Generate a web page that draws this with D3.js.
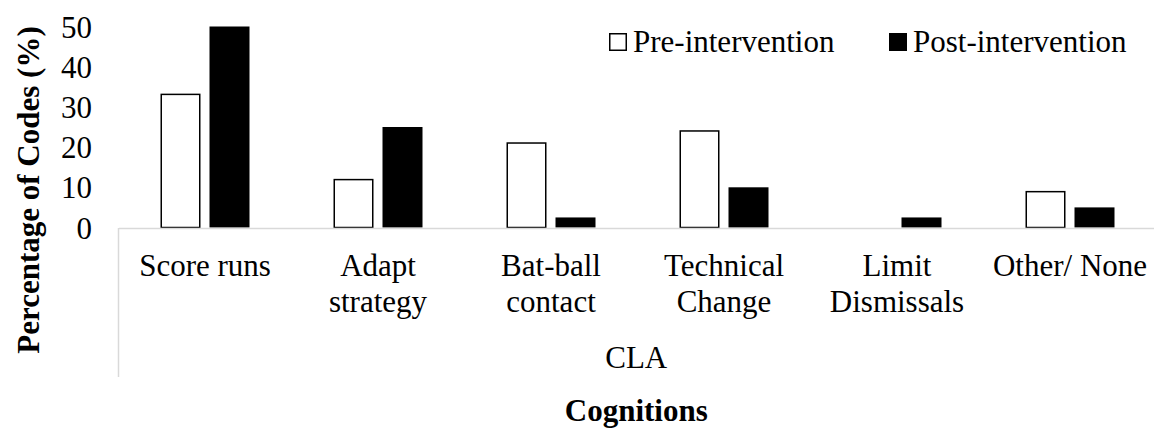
<!DOCTYPE html>
<html>
<head>
<meta charset="utf-8">
<script src="https://cdn.jsdelivr.net/npm/d3@7"></script>
<style>
  body { margin: 0; background: #fff; }
</style>
</head>
<body>
<svg class="chart"></svg>
<script>
// chart values
let categories = ['Score runs', 'Adapt strategy', 'Bat-ball contact', 'Technical Change', 'Limit Dismissals', 'Other/ None'];
let seriesNames = ['Pre-intervention', 'Post-intervention'];
let preValues = [33.3, 12.1, 21.2, 24.2, 0, 9.1];
let postValues = [50, 25, 2.5, 10, 2.5, 5];
let yTicks = [0, 10, 20, 30, 40, 50];
let groupLabel = 'CLA';
let xTitle = 'Cognitions';
let yTitle = 'Percentage of Codes (%)';

let width = 1154, height = 428;
let fontFamily = '"Liberation Serif", "Times New Roman", serif';
let fontSize = 31;
let axisColor = '#d9d9d9';

let svg = d3.select('.chart')
  .attr('width', width)
  .attr('height', height)
  .attr('font-family', fontFamily);

svg.append('rect')
  .attr('width', width)
  .attr('height', height)
  .attr('fill', '#fff');

let x0 = d3.scaleBand() // categories
  .domain(categories)
  .range([118.5, 1156.5])
  .paddingInner(0)
  .paddingOuter(0);

let x1 = d3.scaleBand() // pre / post within a category
  .domain(seriesNames)
  .range([0, 89])
  .paddingInner(9 / 49);

let y = d3.scaleLinear()
  .domain([0, 50])
  .range([227.5, 26.5]);

let z = d3.scaleOrdinal()
  .domain(seriesNames)
  .range(['#fff', '#000']);

let rows = categories.map((c, i) => ({
  category: c,
  values: [
    {key: seriesNames[0], value: preValues[i]},
    {key: seriesNames[1], value: postValues[i]}
  ]
}));

// bars
let groups = svg.selectAll('.group')
  .data(rows)
  .enter().append('g')
  .attr('class', 'group')
  .attr('transform', (d) => 'translate(' + (x0(d.category) + (x0.bandwidth() - 89) / 2) + ',0)');

groups.selectAll('rect')
  .data((d) => d.values.filter((v) => v.value > 0))
  .enter().append('rect')
  .attr('x', (d) => x1(d.key) + (d.key === seriesNames[0] ? 0.75 : 0))
  .attr('y', (d) => y(d.value) + (d.key === seriesNames[0] ? 0.75 : 0))
  .attr('width', (d) => x1.bandwidth() - (d.key === seriesNames[0] ? 1.5 : 0))
  .attr('height', (d) => y(0) - y(d.value) - (d.key === seriesNames[0] ? 0.75 : 0))
  .attr('fill', (d) => z(d.key))
  .attr('stroke', (d) => d.key === seriesNames[0] ? '#000' : 'none')
  .attr('stroke-width', 1.5);

// y-axis (labels only)
let yAxis = svg.append('g')
  .attr('transform', 'translate(92,0)')
  .call(d3.axisLeft(y).tickValues(yTicks).tickSize(0).tickPadding(0))
  .attr('font-family', fontFamily)
  .attr('font-size', fontSize);
yAxis.select('.domain').remove();
yAxis.selectAll('text')
  .attr('fill', '#000')
  .attr('dy', '0.34em');

// x-axis
let xAxis = svg.append('g')
  .attr('transform', 'translate(0,' + 228 + ')')
  .call(d3.axisBottom(x0).tickSize(0))
  .attr('font-family', fontFamily)
  .attr('font-size', fontSize);
xAxis.select('.domain')
  .attr('stroke', axisColor)
  .attr('stroke-width', 1.5);
xAxis.selectAll('text')
  .attr('fill', '#000')
  .attr('dy', null)
  .attr('y', 48)
  .each(function (d) {
    wrap(d3.select(this), x0.bandwidth() - 8);
  });

// wrap a label into lines that fit the category width
function wrap(text, maxWidth) {
  let words = text.text().split(/\s+/);
  text.text(null);
  let line = [];
  let lineNo = 0;
  let tspan = text.append('tspan').attr('x', 0).attr('y', 48);
  words.forEach((word) => {
    line.push(word);
    tspan.text(line.join(' '));
    if (tspan.node().getComputedTextLength() > maxWidth && line.length > 1) {
      line.pop();
      tspan.text(line.join(' '));
      line = [word];
      lineNo++;
      tspan = text.append('tspan')
        .attr('x', 0)
        .attr('y', 48 + lineNo * 35.7)
        .text(word);
    }
  });
}

// vertical divider of the multi-level axis
svg.append('line')
  .attr('x1', 118.5)
  .attr('x2', 118.5)
  .attr('y1', 228)
  .attr('y2', 377)
  .attr('stroke', axisColor)
  .attr('stroke-width', 1.5);

// group label
svg.append('text')
  .attr('x', (118.5 + 1154) / 2)
  .attr('y', 368)
  .attr('text-anchor', 'middle')
  .attr('font-size', fontSize)
  .text(groupLabel);

// axis titles
svg.append('text')
  .attr('x', (118.5 + 1154) / 2)
  .attr('y', 421)
  .attr('text-anchor', 'middle')
  .attr('font-size', fontSize)
  .attr('font-weight', 'bold')
  .text(xTitle);

svg.append('text')
  .attr('transform', 'translate(39,190) rotate(-90)')
  .attr('text-anchor', 'middle')
  .attr('font-size', fontSize)
  .attr('font-weight', 'bold')
  .text(yTitle);

// legend
let legendX = [609, 889];
let legend = svg.selectAll('.legend')
  .data(seriesNames)
  .enter().append('g')
  .attr('class', 'legend')
  .attr('transform', (d, i) => 'translate(' + legendX[i] + ',33)');

legend.append('rect')
  .attr('x', (d, i) => i === 0 ? 0.75 : 0)
  .attr('y', (d, i) => i === 0 ? 0.75 : 0)
  .attr('width', (d, i) => i === 0 ? 16.5 : 18)
  .attr('height', (d, i) => i === 0 ? 16.5 : 18)
  .attr('fill', z)
  .attr('stroke', (d, i) => i === 0 ? '#000' : 'none')
  .attr('stroke-width', 1.5);

legend.append('text')
  .attr('x', 24)
  .attr('y', 19)
  .attr('font-size', fontSize)
  .text((d) => d);
</script>
</body>
</html>
